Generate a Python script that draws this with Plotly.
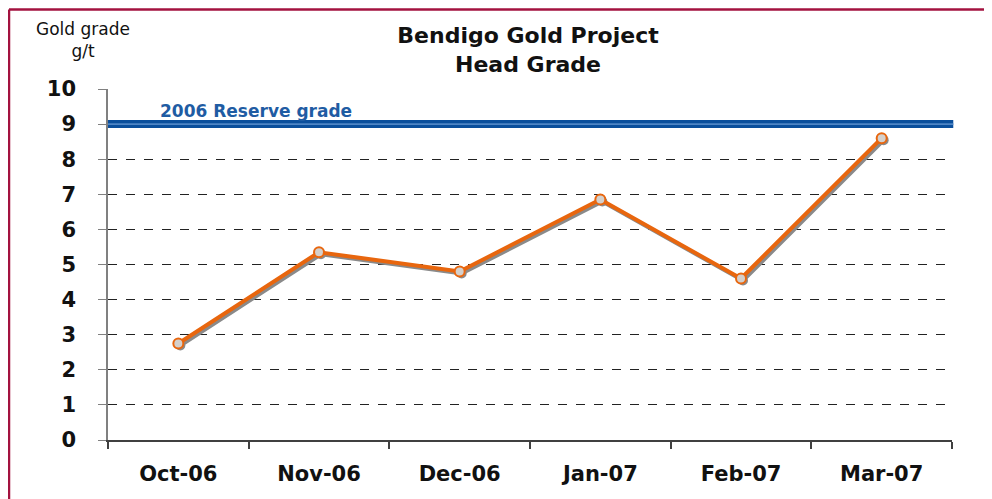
import plotly.graph_objects as go

months = ["Oct-06", "Nov-06", "Dec-06", "Jan-07", "Feb-07", "Mar-07"]
head_grade = [2.75, 5.35, 4.8, 6.85, 4.6, 8.6]
reserve_grade = 9.0
reserve_label = "2006 Reserve grade"
y_ticks = list(range(0, 11))

# page has an 8px body margin, so the figure is 984x491 drawn at (8, 8)
W, H = 984, 491
ML, MR, MT, MB = 100, 40, 81, 59
pw = W - ML - MR
ph = H - MT - MB
XR = [-0.5, 5.5]
YR = [0, 10]
# shadow offset of 2px right / 2px down, expressed in axis units
dx = 2 * (XR[1] - XR[0]) / pw
dy = 2 * (YR[1] - YR[0]) / ph

ORANGE = "#E8660E"
BLUE = "#0B4F9C"
FONT = "DejaVu Sans"

fig = go.Figure()

# invisible trace to give the visible category axis its categories
fig.add_trace(go.Scatter(
    x=months, y=head_grade, mode="markers", marker=dict(opacity=0),
    hoverinfo="skip", showlegend=False,
))
# shadow of the line
fig.add_trace(go.Scatter(
    x=months, y=head_grade, mode="lines+markers",
    line=dict(color="#8A8A8A", width=4),
    marker=dict(size=10, color="#8A8A8A", line=dict(width=0)),
    xaxis="x2", yaxis="y2", hoverinfo="skip", showlegend=False,
))
# main line on top
fig.add_trace(go.Scatter(
    x=months, y=head_grade, mode="lines+markers",
    line=dict(color=ORANGE, width=4),
    marker=dict(size=10, color="#D4D0CC", line=dict(color=ORANGE, width=2)),
    xaxis="x3", yaxis="y3", showlegend=False,
))

# reserve grade line
fig.add_shape(type="line", xref="paper", yref="y", x0=0, x1=1.0015,
              y0=reserve_grade, y1=reserve_grade,
              line=dict(color=BLUE, width=8), layer="above")
fig.add_shape(type="line", xref="paper", yref="y", x0=0, x1=1.0015,
              y0=reserve_grade, y1=reserve_grade,
              line=dict(color="#4F86C6", width=1.8), layer="above")

fig.add_annotation(text=reserve_label, xref="paper", yref="y",
                   x=(150 - ML) / pw, y=reserve_grade, xanchor="left",
                   yanchor="bottom", yshift=1, showarrow=False,
                   font=dict(family=FONT, size=17, color="#1F5CA3", weight="bold"))

# axis title
fig.add_annotation(text="Gold grade<br>g/t", xref="paper", yref="paper",
                   x=(75 - ML) / pw, y=1 + (MT - 32) / ph, xanchor="center",
                   yanchor="middle", showarrow=False, align="center",
                   font=dict(family=FONT, size=17, color="#111111"))

# border
fig.add_shape(type="line", xref="paper", yref="paper",
              x0=(1 - ML) / pw, x1=(W + 20 - ML) / pw,
              y0=1 + (MT - 1.5) / ph, y1=1 + (MT - 1.5) / ph,
              line=dict(color="#A3123F", width=2.5))
fig.add_shape(type="line", xref="paper", yref="paper",
              x0=(1 - ML) / pw, x1=(1 - ML) / pw,
              y0=1 + (MT - 1.5) / ph, y1=-(MB + 20) / ph,
              line=dict(color="#A3123F", width=2.5))

tickfont = dict(family=FONT, size=21, color="#111111", weight="bold")
hidden = dict(visible=False, showgrid=False, zeroline=False)

fig.update_layout(
    width=W, height=H,
    margin=dict(l=ML, r=MR, t=MT, b=MB),
    paper_bgcolor="white", plot_bgcolor="white",
    title=dict(text="Bendigo Gold Project<br>Head Grade", x=520 / W,
               xanchor="center", y=1 - 35 / H, yanchor="middle",
               font=dict(family=FONT, size=22, color="#111111", weight="bold")),
    xaxis=dict(type="category", range=XR,
               tickson="boundaries", ticks="outside", ticklen=7,
               tickcolor="#404040", tickwidth=1.5,
               showline=True, linecolor="#404040", linewidth=1.5,
               showgrid=False, ticklabelstandoff=14, tickfont=tickfont),
    yaxis=dict(range=YR, tickvals=y_ticks,
               ticks="outside", ticklen=8, tickcolor="#808080",
               showline=True, linecolor="#808080", linewidth=1.5,
               showgrid=True, gridcolor="#222222", griddash="dash", gridwidth=1,
               zeroline=False, ticklabelstandoff=18, tickfont=tickfont),
    xaxis2=dict(type="category", range=[XR[0] - dx, XR[1] - dx],
                anchor="y2", overlaying="x", **hidden),
    yaxis2=dict(range=[YR[0] + dy, YR[1] + dy], anchor="x2",
                overlaying="y", **hidden),
    xaxis3=dict(type="category", range=XR, anchor="y3", overlaying="x", **hidden),
    yaxis3=dict(range=YR, anchor="x3", overlaying="y", **hidden),
)

fig.write_html("out.html")
